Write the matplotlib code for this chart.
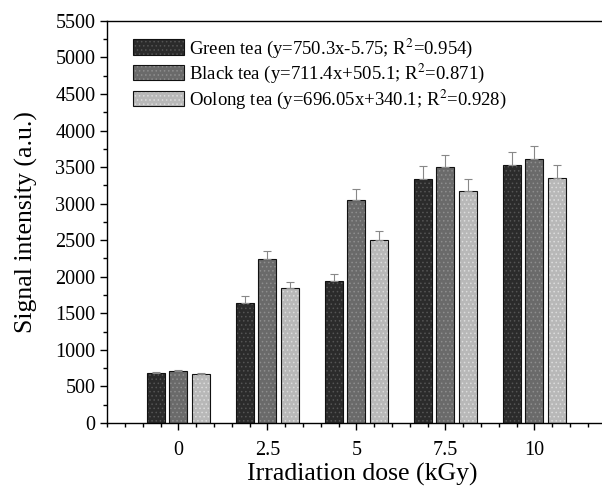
import matplotlib
matplotlib.use("Agg")
import matplotlib.pyplot as plt
import numpy as np
from matplotlib.ticker import MultipleLocator

plt.rcParams['font.family'] = ['Liberation Serif', 'DejaVu Serif']
plt.rcParams['mathtext.fontset'] = 'stix'

doses = ["0", "2.5", "5", "7.5", "10"]
series_names = ["Green tea (y=750.3x-5.75; R$^2$=0.954)",
                "Black tea (y=711.4x+505.1; R$^2$=0.871)",
                "Oolong tea (y=696.05x+340.1; R$^2$=0.928)"]
green = [680, 1640, 1945, 3335, 3535]
black = [710, 2245, 3050, 3500, 3610]
oolong = [670, 1840, 2505, 3170, 3355]
green_err = [20, 90, 95, 175, 170]
black_err = [20, 110, 150, 170, 175]
oolong_err = [20, 85, 120, 165, 170]

values = [green, black, oolong]
errors = [green_err, black_err, oolong_err]
colors = ['#2b2b2b', '#6a6a6a', '#b8b8b8']
hatch_colors = ['#555555', '#8e8e8e', '#dcdcdc']

fig = plt.figure(figsize=(6.02, 4.97), dpi=100)
ax = fig.add_axes([0.178, 0.149, 0.822, 0.809])

x = np.arange(len(doses))
w = 0.2
offs = [-0.253, 0.0, 0.253]
plt.rcParams['hatch.linewidth'] = 0.6
for vals, errs, c, hc, o, name in zip(values, errors, colors, hatch_colors, offs, series_names):
    bars = ax.bar(x + o, vals, width=w, color=c, edgecolor='#111111', linewidth=0.8,
                  label=name, zorder=2)
    for b in bars:
        b.set_hatch('....')
        b._hatch_color = matplotlib.colors.to_rgba(hc)
    ax.errorbar(x + o, vals, yerr=[np.zeros(len(errs)), errs], fmt='none',
                ecolor='#888888', elinewidth=0.8, capsize=3, capthick=0.8, zorder=3)

ax.set_xlim(-0.8, 4.76)
ax.set_ylim(0, 5500)
ax.set_xticks(x)
ax.set_xticklabels(doses)
ax.xaxis.set_minor_locator(MultipleLocator(0.2))
ax.yaxis.set_major_locator(MultipleLocator(500))
ax.yaxis.set_minor_locator(MultipleLocator(250))
ax.tick_params(axis='both', which='major', direction='out', length=5, width=1, labelsize=14.5)
ax.tick_params(axis='both', which='minor', direction='out', length=3, width=1)
ax.tick_params(axis='x', which='major', pad=8)
ax.spines['right'].set_visible(False)
for s in ['left', 'bottom', 'top']:
    ax.spines[s].set_linewidth(1.0)

ax.set_xlabel("Irradiation dose (kGy)", fontsize=18.5)
ax.set_ylabel("Signal intensity (a.u.)", fontsize=18.5)
ax.xaxis.set_label_coords(0.515, -0.0995)
ax.yaxis.set_label_coords(-0.139, 0.5)

leg = ax.legend(loc='upper left', bbox_to_anchor=(0.03, 0.99), frameon=False,
                fontsize=13.5, handlelength=2.7, handleheight=0.9, handletextpad=0.25,
                labelspacing=0.12, borderaxespad=0.2)

fig.savefig("out.png", dpi=100)
